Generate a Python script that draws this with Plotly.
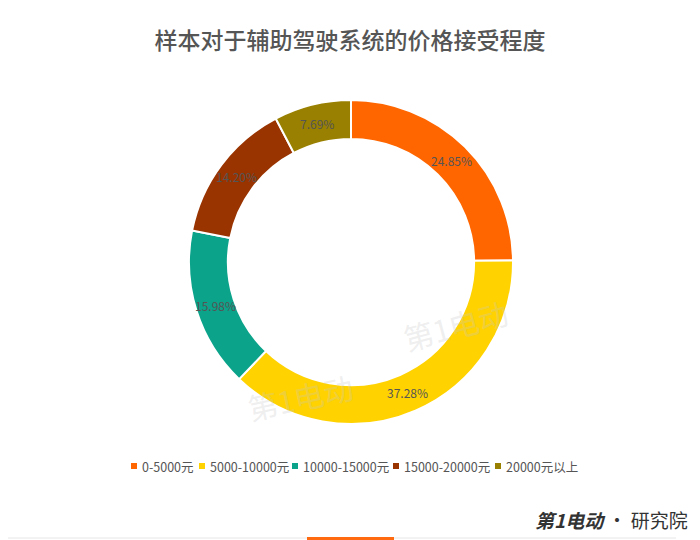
import math
import plotly.graph_objects as go

categories = ["0-5000元", "5000-10000元", "10000-15000元", "15000-20000元", "20000元以上"]
values = [24.85, 37.28, 15.98, 14.20, 7.69]
colors = ["#FF6600", "#FFD200", "#0BA38A", "#993300", "#998000"]
title = "样本对于辅助驾驶系统的价格接受程度"

FONT = "Noto Sans CJK SC, Noto Sans, sans-serif"
W, H = 700, 540

# pie geometry (page pixels)
CX, CY, R_OUT = 351, 262, 162
HOLE = 0.76


def px(x):
    return x / W


def py(y):
    return 1 - y / H


fig = go.Figure()
fig.add_trace(go.Pie(
    labels=categories,
    values=values,
    hole=HOLE,
    sort=False,
    direction="clockwise",
    rotation=0,
    marker=dict(colors=colors, line=dict(color="white", width=2)),
    textinfo="none",
    hoverinfo="label+value",
    domain=dict(x=[px(CX - R_OUT), px(CX + R_OUT)], y=[py(CY + R_OUT), py(CY - R_OUT)]),
    showlegend=False,
))

# slice labels, horizontally at the middle of each ring segment
total = sum(values)
r_mid = R_OUT * (1 + HOLE) / 2
cum = 0.0
for v in values:
    ang = 2 * math.pi * (cum + v / 2) / total  # clockwise from 12 o'clock
    cum += v
    lx = CX + r_mid * math.sin(ang)
    ly = CY - r_mid * math.cos(ang)
    fig.add_annotation(text=f"{v:.2f}%", x=px(lx), y=py(ly), xref="paper", yref="paper",
                       showarrow=False, xanchor="center", yanchor="middle",
                       font=dict(size=12, color="#555555", family=FONT))

fig.update_layout(
    width=W, height=H,
    margin=dict(l=0, r=0, t=0, b=0),
    paper_bgcolor="white",
    plot_bgcolor="white",
    font=dict(family=FONT, color="#555555"),
    title=dict(text=title, x=0.5, xanchor="center", y=py(41), yanchor="middle",
               font=dict(size=23, color="#555555", family=FONT, weight=500)),
    showlegend=False,
)

# legend (compact, as in the reference)
legend_marker_x = [131, 199, 292, 393, 495]
legend_y = 466
for name, col, mx in zip(categories, colors, legend_marker_x):
    fig.add_shape(type="rect", xref="paper", yref="paper",
                  x0=px(mx), x1=px(mx + 6),
                  y0=py(legend_y + 3), y1=py(legend_y - 3),
                  line=dict(width=0), fillcolor=col)
    fig.add_annotation(text=name, x=px(mx + 9), y=py(legend_y),
                       xref="paper", yref="paper", xanchor="left", yanchor="middle",
                       showarrow=False, font=dict(size=12.5, color="#555555", family=FONT))

# watermarks (faint)
fig.add_annotation(text="第1电动", x=px(455), y=py(325), xref="paper", yref="paper",
                   showarrow=False, textangle=-15,
                   font=dict(size=30, color="rgba(200,200,200,0.30)", family=FONT))
fig.add_annotation(text="第1电动", x=px(300), y=py(432), xref="paper", yref="paper",
                   showarrow=False, textangle=-12,
                   font=dict(size=30, color="rgba(200,200,200,0.30)", family=FONT))

# footer logo text
fig.add_annotation(text="<i><b>第1电动</b></i> · 研究院", x=px(690), y=py(519),
                   xref="paper", yref="paper", xanchor="right", yanchor="middle",
                   showarrow=False, font=dict(size=19, color="#333333", family=FONT))

# bottom line and orange bar
fig.add_shape(type="line", xref="paper", yref="paper", x0=px(8), x1=px(676),
              y0=py(538), y1=py(538), line=dict(color="#E6E6E6", width=1))
fig.add_shape(type="rect", xref="paper", yref="paper", x0=px(307), x1=px(394),
              y0=0, y1=py(537), line=dict(width=0), fillcolor="#FF6A10")

fig.write_html("out.html",
               config={"displayModeBar": False},
               post_script="document.body.style.margin='0';document.body.style.overflow='hidden';")
